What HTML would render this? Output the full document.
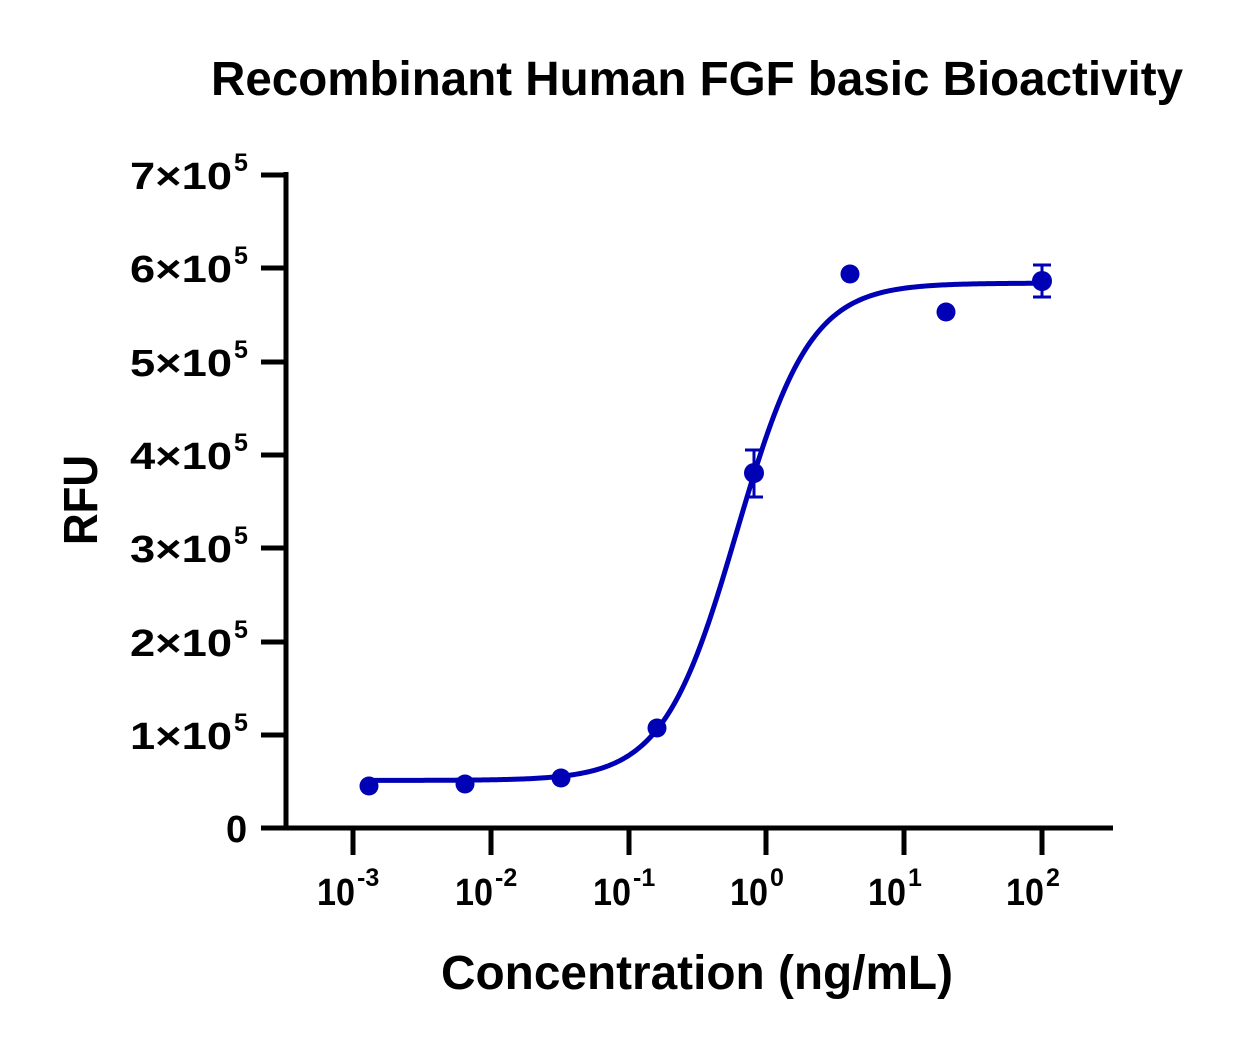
<!DOCTYPE html>
<html><head><style>body{margin:0;background:#fff}svg{display:block}</style></head>
<body>
<svg id="s" width="1243" height="1044" xmlns="http://www.w3.org/2000/svg" font-family="Liberation Sans, sans-serif" font-weight="bold">
<text x="697" y="95" font-size="48" text-anchor="middle" textLength="972" lengthAdjust="spacingAndGlyphs">Recombinant Human FGF basic Bioactivity</text>
<g stroke="#000" stroke-width="5" fill="none">
<line x1="286" y1="172" x2="286" y2="830"/>
<line x1="261" y1="828" x2="1113" y2="828"/>
<line x1="261" y1="735" x2="286" y2="735"/>
<line x1="261" y1="642" x2="286" y2="642"/>
<line x1="261" y1="548" x2="286" y2="548"/>
<line x1="261" y1="455" x2="286" y2="455"/>
<line x1="261" y1="362" x2="286" y2="362"/>
<line x1="261" y1="268" x2="286" y2="268"/>
<line x1="261" y1="175" x2="286" y2="175"/>
<line x1="353" y1="828" x2="353" y2="855"/>
<line x1="491" y1="828" x2="491" y2="855"/>
<line x1="629" y1="828" x2="629" y2="855"/>
<line x1="766" y1="828" x2="766" y2="855"/>
<line x1="904" y1="828" x2="904" y2="855"/>
<line x1="1042" y1="828" x2="1042" y2="855"/>
</g>
<g font-size="38">
<text x="226" y="842">0</text>
<g id="yl"></g>
</g>
<g font-size="38" id="xl"></g>
<text x="697" y="989" font-size="48" text-anchor="middle" textLength="512" lengthAdjust="spacingAndGlyphs">Concentration (ng/mL)</text>
<text transform="translate(97,500) rotate(-90)" font-size="48" text-anchor="middle" textLength="90" lengthAdjust="spacingAndGlyphs">RFU</text>
<path id="curve" stroke="#0000b4" stroke-width="5" fill="none"/>
<g stroke="#0000b4" stroke-width="3">
<line x1="754" y1="450" x2="754" y2="497"/><line x1="745" y1="450" x2="763" y2="450"/><line x1="745" y1="497" x2="763" y2="497"/>
<line x1="1042" y1="265" x2="1042" y2="297"/><line x1="1033" y1="265" x2="1051" y2="265"/><line x1="1033" y1="297" x2="1051" y2="297"/>
</g>
<g fill="#0000b4">
<circle cx="369" cy="786" r="9.5"/><circle cx="465" cy="784" r="9.5"/><circle cx="561" cy="778" r="9.5"/>
<circle cx="657" cy="728" r="9.5"/><circle cx="754" cy="473" r="10"/><circle cx="850" cy="274" r="9.5"/>
<circle cx="946" cy="312" r="9.5"/><circle cx="1042" cy="281" r="10"/>
</g>
</svg>
<script>
var NS="http://www.w3.org/2000/svg";
function T(p,x,y,s,fs,len){var e=document.createElementNS(NS,"text");e.setAttribute("x",x);e.setAttribute("y",y);if(fs)e.setAttribute("font-size",fs);if(len){e.setAttribute("textLength",len);e.setAttribute("lengthAdjust","spacingAndGlyphs");}e.textContent=s;p.appendChild(e);}
var yl=document.getElementById("yl"),ys=[735,642,548,455,362,268,175];
for(var i=0;i<7;i++){T(yl,130,ys[i]+14,(i+1)+"×10",null,102);T(yl,234,ys[i]-4,"5",25);}
var xl=document.getElementById("xl"),xs=[353,491,629,766,904,1042],ex=["-3","-2","-1","0","1","2"];
for(var i=0;i<6;i++){T(xl,xs[i]-36,905,"10",null,38);T(xl,xs[i]+4,886,ex[i],25);}
var d="",b=51,t=584,c=-0.2125,h=1.63;
for(var x=369;x<=1042;x+=2){var l=(x-766)/137.8;var v=b+(t-b)/(1+Math.pow(10,h*(c-l)));var y=828-v*0.933;d+=(d?"L":"M")+x+","+y.toFixed(2);}
document.getElementById("curve").setAttribute("d",d);
</script>
</body></html>
